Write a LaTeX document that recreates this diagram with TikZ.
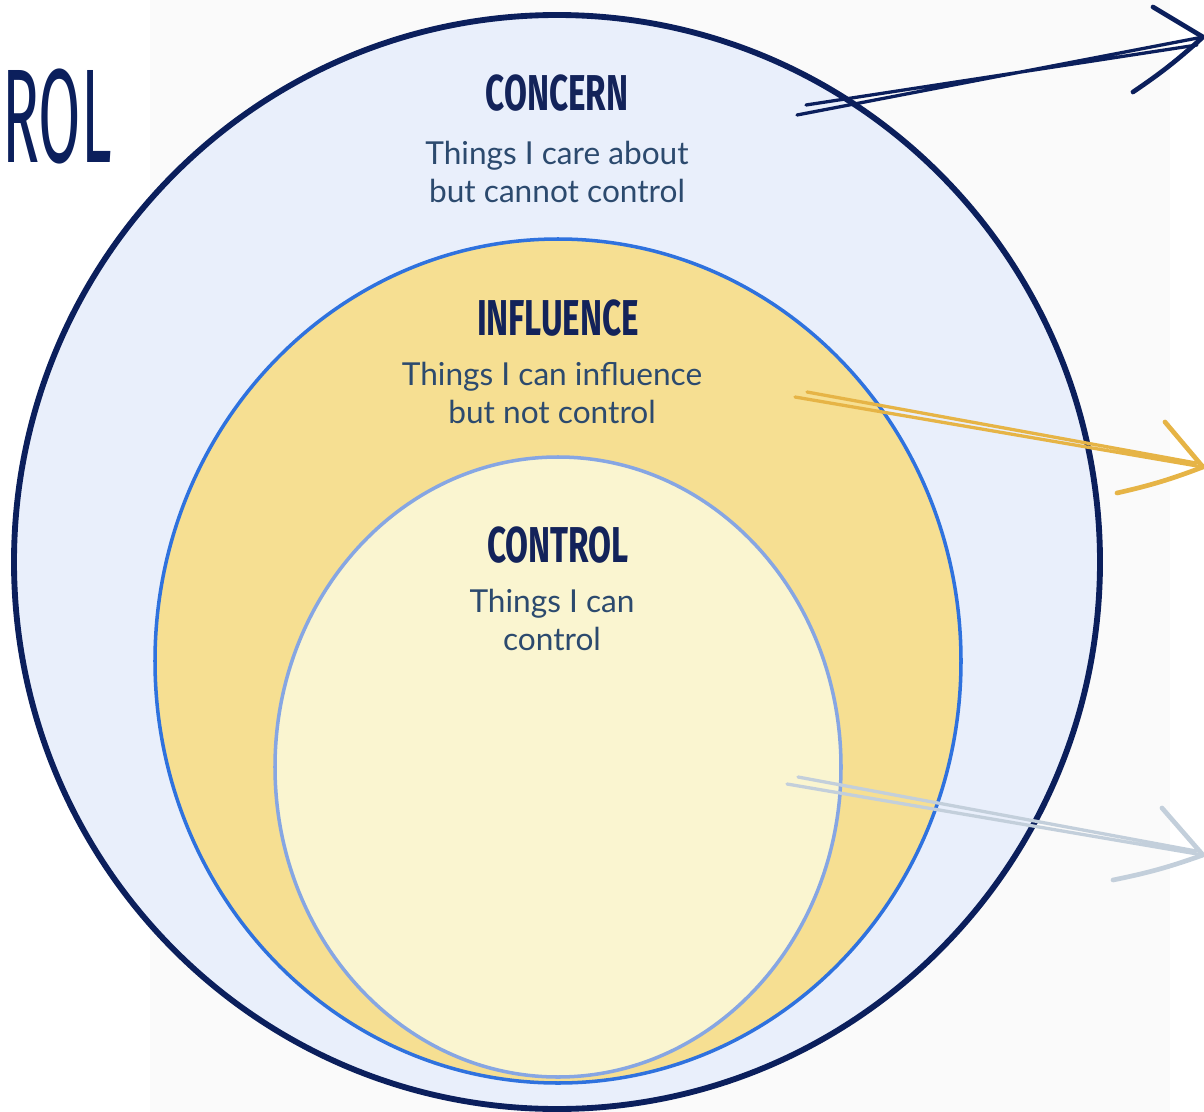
\documentclass[tikz,border=0pt]{standalone}
\usepackage{fontspec}
\setmainfont{Lato}
\newfontfamily\headfont[FakeStretch=0.66]{Fira Sans}
\newfontfamily\bigfont[FakeStretch=0.46]{Fira Sans}
\usetikzlibrary{positioning}

\definecolor{navy}{RGB}{11,31,92}
\definecolor{headink}{RGB}{19,35,90}
\definecolor{bodyink}{RGB}{44,74,110}
\definecolor{paper}{RGB}{250,250,250}
\definecolor{concernfill}{RGB}{233,239,251}
\definecolor{influenceline}{RGB}{47,114,222}
\definecolor{influencefill}{RGB}{246,223,146}
\definecolor{controlline}{RGB}{134,166,227}
\definecolor{controlfill}{RGB}{250,245,208}
\definecolor{gold}{RGB}{230,180,70}
\definecolor{mist}{RGB}{195,207,219}

\begin{document}
\begin{tikzpicture}[x=0.3mm, y=-0.3mm, line cap=round, line join=round,
    heading/.style={font=\headfont\bfseries\fontsize{43}{43}\selectfont, text=headink, inner sep=0pt},
    blurb/.style={font=\fontsize{27}{28}\selectfont, text=bodyink, align=center, inner sep=0pt},
    shaft/.style={line width=2.8pt},
    barb/.style={line width=4pt}]
  \useasboundingbox (0,0) rectangle (1204,1112);
  \clip (0,0) rectangle (1204,1112);

  % Paper
  \fill[paper] (150,0) rectangle (1170,1112);

  % Title at the left edge
  \node[font=\bigfont\fontsize{114}{114}\selectfont, text=navy, inner sep=0pt, anchor=base east] (title) at (112,162) {ROL};

  % Circles
  \draw[line width=5pt, navy, fill=concernfill] (557,562) ellipse [x radius=543, y radius=547];
  \draw[line width=3pt, influenceline, fill=influencefill] (558,661) ellipse [x radius=403, y radius=422];
  \draw[line width=3pt, controlline, fill=controlfill] (558,767) ellipse [x radius=283, y radius=310];

  % Labels
  \node[heading, anchor=base] (concern) at (557,110) {CONCERN};
  \node[blurb] (concern text) at (557,172) {Things I care about\\[5pt]but cannot control};

  \node[heading, anchor=base] (influence) at (558,335) {INFLUENCE};
  \node[blurb] (influence text) at (552,393) {Things I can influence\\[5pt]but not control};

  \node[heading, anchor=base] (control) at (558,562) {CONTROL};
  \node[blurb] (control text) at (552,620) {Things I can\\[5pt]control};

  % Arrow out of the concern ring
  \coordinate (concern start) at (797,115);
  \coordinate (concern start2) at (806,105);
  \coordinate (concern tip) at (1203,37);
  \coordinate (concern tip2) at (1197,45);
  \coordinate (concern barb) at (1153,7);
  \coordinate (concern barb2) at (1133,92);
  \draw[shaft, navy] (concern start) -- (concern tip) (concern start2) -- (concern tip2);
  \draw[barb, navy] (concern barb) -- (concern tip) (concern barb2) to[bend right=4] (concern tip);

  % Arrow out of the influence ring
  \coordinate (influence start) at (795,397);
  \coordinate (influence start2) at (807,392);
  \coordinate (influence tip) at (1203,467);
  \coordinate (influence tip2) at (1196,463);
  \coordinate (influence barb) at (1165,422);
  \coordinate (influence barb2) at (1117,493);
  \draw[shaft, gold] (influence start) -- (influence tip) (influence start2) -- (influence tip2);
  \draw[barb, gold] (influence barb) -- (influence tip) (influence barb2) to[bend right=4] (influence tip);

  % Arrow out of the control ring
  \coordinate (control start) at (787,784);
  \coordinate (control start2) at (798,777);
  \coordinate (control tip) at (1203,855);
  \coordinate (control tip2) at (1196,851);
  \coordinate (control barb) at (1162,808);
  \coordinate (control barb2) at (1113,880);
  \draw[shaft, mist] (control start) -- (control tip) (control start2) -- (control tip2);
  \draw[barb, mist] (control barb) -- (control tip) (control barb2) to[bend right=4] (control tip);
\end{tikzpicture}
\end{document}
